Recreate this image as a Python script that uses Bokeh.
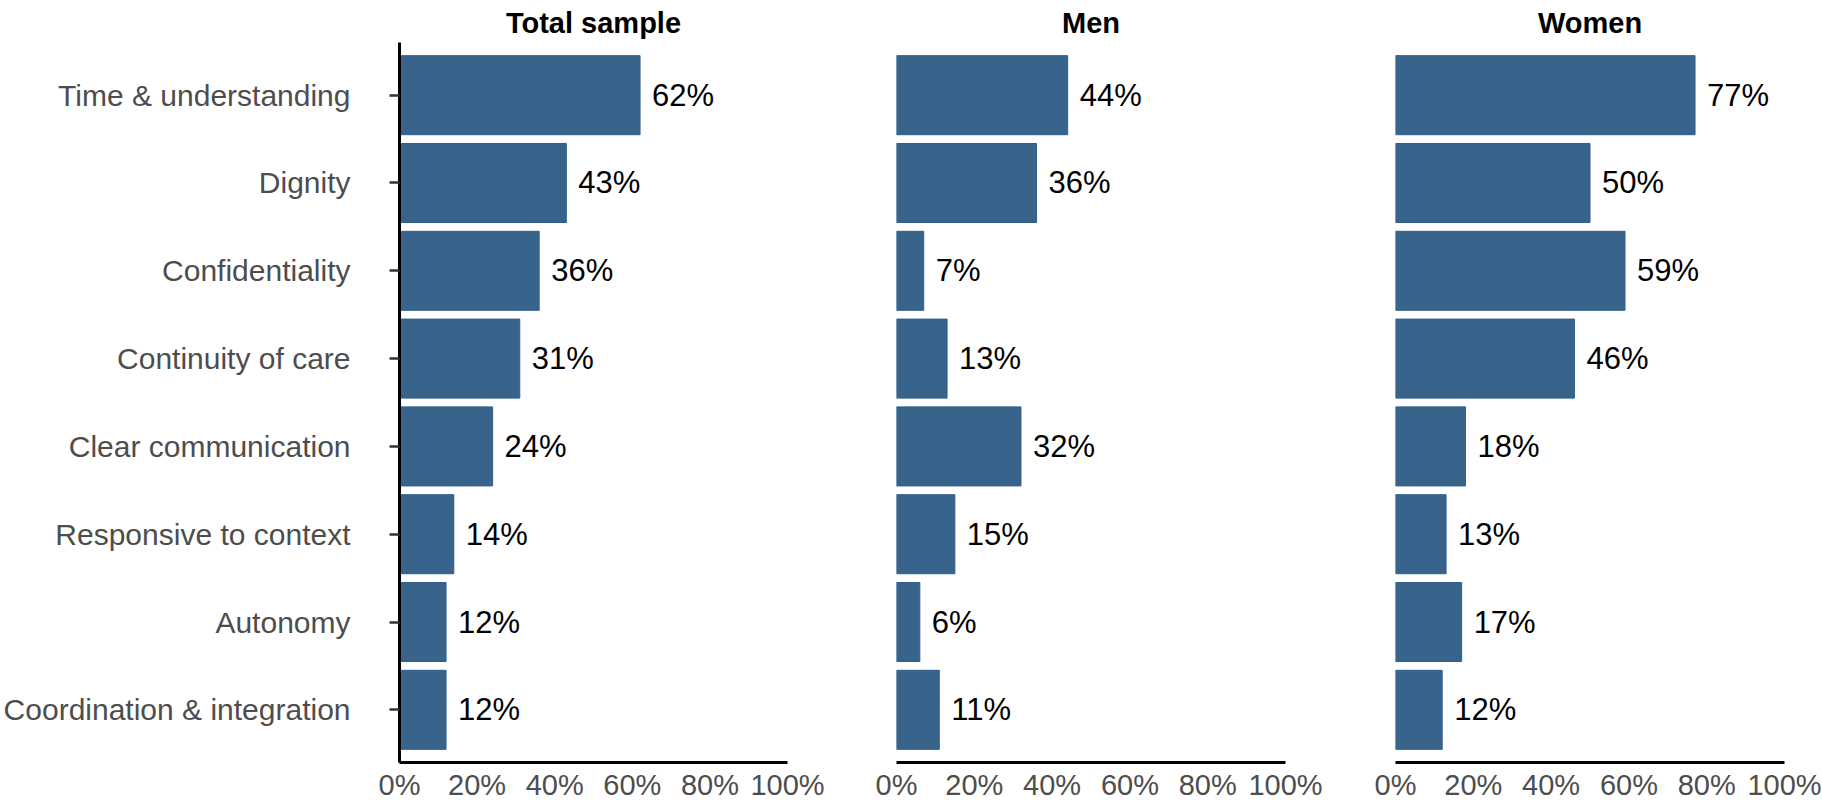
from bokeh.plotting import figure
from bokeh.layouts import row
from bokeh.models import Range1d, FixedTicker, Label, ColumnDataSource
from bokeh.core.properties import value
from bokeh.embed import file_html
from bokeh.resources import INLINE

# ---- data ----
categories = ["Time & understanding", "Dignity", "Confidentiality", "Continuity of care",
              "Clear communication", "Responsive to context", "Autonomy",
              "Coordination & integration"]
total = [62, 43, 36, 31, 24, 14, 12, 12]
men = [44, 36, 7, 13, 32, 15, 6, 11]
women = [77, 50, 59, 46, 18, 13, 17, 12]
panel_titles = ["Total sample", "Men", "Women"]
x_ticks = [0, 20, 40, 60, 80, 100]
x_tick_labels = ["0%", "20%", "40%", "60%", "80%", "100%"]

FONT = "Liberation Sans"
BAR = "#38648B"
BAR_EDGE = "#2F5E8C"

H = 804
AXIS_TOP_PX = 42        # where the category axis starts (px from top)
BOTTOM = 42
PAD = 0.6               # half-slot padding around the categories
N = len(categories)
ypos = [N - i for i in range(N)]          # top category highest
Y_LO, Y_HI = 1 - PAD, N + PAD
PX_PER_UNIT = (H - BOTTOM - AXIS_TOP_PX) / (Y_HI - Y_LO)
Y_END = Y_LO + (H - BOTTOM) / PX_PER_UNIT  # frame reaches the canvas top
TITLE_Y = Y_HI + (AXIS_TOP_PX - 22.5) / PX_PER_UNIT

# (figure width, left border, right border)
layout_spec = [(840, 398, 53), (500, 56, 55), (482, 55, 38)]


def make_panel(title, vals, spec, show_y):
    w, bl, br = spec
    p = figure(width=w, height=H,
               y_range=Range1d(Y_LO, Y_END), x_range=Range1d(0, 100),
               output_backend="svg", toolbar_location=None,
               y_axis_location="left" if show_y else None,
               min_border_left=bl, min_border_right=br,
               min_border_top=0, min_border_bottom=BOTTOM)
    p.outline_line_color = None
    p.background_fill_color = "white"
    p.border_fill_color = "white"
    p.xgrid.visible = False
    p.ygrid.visible = False

    src = ColumnDataSource(dict(y=ypos, v=vals, lbl=[f"{v}%" for v in vals]))
    p.hbar(y="y", left=0, right="v", height=0.9, source=src,
           fill_color=BAR, line_color=BAR_EDGE, line_width=1)
    p.text(x="v", y="y", text="lbl", source=src, x_offset=12,
           text_align="left", text_baseline="middle",
           text_font=value(FONT), text_font_size="31px", text_color="black")

    p.add_layout(Label(x=50, y=TITLE_Y, text=title, text_align="center",
                       text_baseline="alphabetic", text_font=FONT,
                       text_font_style="bold", text_font_size="29px",
                       text_color="black"))

    xa = p.xaxis[0]
    xa.ticker = FixedTicker(ticks=x_ticks)
    xa.major_label_overrides = {t: l for t, l in zip(x_ticks, x_tick_labels)}
    xa.major_tick_out = 0
    xa.major_tick_in = 0
    xa.minor_tick_out = 0
    xa.minor_tick_in = 0
    xa.axis_line_width = 3
    xa.axis_line_color = "black"
    xa.major_label_standoff = 6
    xa.major_label_text_font = FONT
    xa.major_label_text_font_size = "29px"
    xa.major_label_text_color = "#4D4D4D"

    if show_y:
        ya = p.yaxis[0]
        ya.bounds = (Y_LO, Y_HI)
        ya.ticker = FixedTicker(ticks=ypos)
        ya.major_label_overrides = {y: c for y, c in zip(ypos, categories)}
        ya.minor_tick_out = 0
        ya.minor_tick_in = 0
        ya.axis_line_width = 3
        ya.axis_line_color = "black"
        ya.major_tick_out = 10
        ya.major_tick_in = 0
        ya.major_tick_line_width = 2.5
        ya.major_tick_line_color = "#333333"
        ya.major_label_standoff = 39
        ya.major_label_text_font = FONT
        ya.major_label_text_font_size = "30px"
        ya.major_label_text_color = "#4D4D4D"
    return p


panels = [make_panel(t, v, s, i == 0)
          for i, (t, v, s) in enumerate(zip(panel_titles, [total, men, women], layout_spec))]
layout = row(*panels)

open("out.html", "w").write(file_html(layout, INLINE))
